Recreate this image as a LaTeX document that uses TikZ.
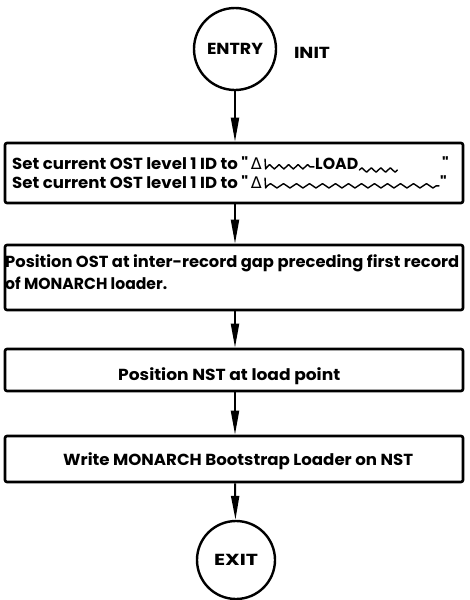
\documentclass[tikz,border=0pt]{standalone}
\usepackage{graphicx}
\usepackage{fontspec}
\setmainfont{Poppins}
\newfontfamily\plainfont{Poppins}
\newfontfamily\deltafont{DejaVu Sans}
\usetikzlibrary{arrows.meta,decorations.pathmorphing}

% set a line of text to a given width, keeping its height
\newcommand\fitw[2]{\resizebox{#1}{\height}{#2}}
% straight double quote
\newcommand\dq{{\plainfont\bfseries\symbol{34}}}

\begin{document}
\begin{tikzpicture}[x=1pt, y=-1pt,
  font=\fontsize{16}{20}\selectfont\bfseries,
  terminal/.style={draw, circle, line width=2.4pt, minimum size=#1, inner sep=0pt},
  procbox/.style={draw, line width=2.6pt, rounded corners=2pt, minimum width=458pt,
                  inner xsep=0pt, inner ysep=0pt},
  label/.style={anchor=base west, inner sep=0pt},
  flow/.style={line width=2pt, -{Triangle[width=8pt, length=24pt]}},
  blank/.style={line width=1.4pt, line cap=round, line join=round},
  wave/.style={blank, decorate, decoration={zigzag, segment length=#1, amplitude=2.2pt}}]

  \useasboundingbox (0,0) rectangle (469,600);

  % terminals
  \node[terminal=82pt] (entry) at (235,49) {\fitw{56pt}{ENTRY}};
  \node (init) at (312,53) {\fitw{36pt}{INIT}};
  \node[terminal=78pt] (exit) at (236,560) {\fitw{44pt}{EXIT}};

  % first box: tape label settings, blanks drawn as wavy marks
  \node[procbox, minimum height=60pt] (setid) at (234,173) {};
  \node[label] (idA) at (12,169) {\fitw{236pt}{Set current OST level 1 ID to \dq}\,{\deltafont\mdseries Δ}};
  \coordinate (wA) at ([xshift=3pt]idA.base east);
  \draw[blank] (wA) ++(0,-10) -- ++(0.6,10) -- ++(1.6,-2.2);
  \draw[wave=9.5pt] ([xshift=2.2pt,yshift=2.2pt]wA) -- ([xshift=49pt,yshift=2.2pt]wA);
  \node[label] (load) at ([xshift=50pt]wA) {\fitw{43pt}{LOAD}};
  \draw[wave=9.5pt] ([xshift=1pt,yshift=-1pt]load.base east) -- ([xshift=39pt,yshift=-1pt]load.base east);
  \node[label] (qA) at (442,169) {\dq};

  \node[label] (idB) at (12,188) {\fitw{236pt}{Set current OST level 1 ID to \dq}\,{\deltafont\mdseries Δ}};
  \coordinate (wB) at ([xshift=3pt]idB.base east);
  \draw[blank] (wB) ++(0,-10) -- ++(0.6,10) -- ++(1.6,-2.2);
  \draw[wave=13pt] ([xshift=2.2pt,yshift=2.2pt]wB) -- ([xshift=174pt,yshift=2.2pt]wB);
  \node[label] (qB) at (440,188) {\dq};

  % second box: text runs against the left edge
  \node[procbox, minimum height=65pt] (posost) at (234,277.5) {};
  \node[label] (gapA) at (5,267) {\fitw{454pt}{Position OST at inter-record gap preceding first record}};
  \node[label] (gapB) at (5,289) {\fitw{162pt}{of MONARCH loader.}};

  % remaining process boxes
  \node[procbox, minimum height=42pt] (posnst) at (234,370) {};
  \node[label] (nst) at (118,380) {\fitw{222pt}{Position NST at load point}};
  \node[procbox, minimum height=46pt] (write) at (234,459) {};
  \node[label] (boot) at (63,465) {\fitw{350pt}{Write MONARCH Bootstrap Loader on NST}};

  % flow lines
  \draw[flow] (entry) -- (entry |- setid.north);
  \draw[flow] (setid.south -| entry) -- (posost.north -| entry);
  \draw[flow] (posost.south -| entry) -- (posnst.north -| entry);
  \draw[flow] (posnst.south -| entry) -- (write.north -| entry);
  \draw[flow] (write.south -| entry) -- (exit);
\end{tikzpicture}
\end{document}
